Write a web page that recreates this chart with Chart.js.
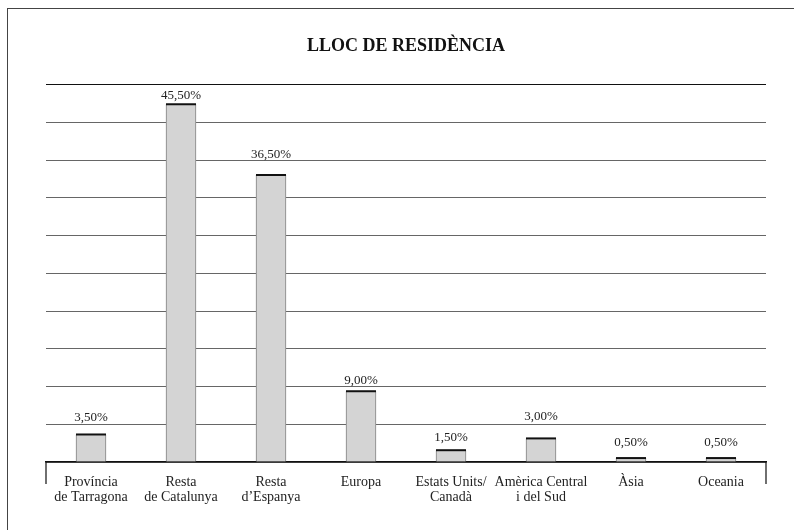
<!DOCTYPE html>
<html>
<head>
  <meta charset="UTF-8" />
  <title>Lloc de residència</title>
  <script src="https://cdn.jsdelivr.net/npm/chart.js"></script>
  <style>
    html, body { margin: 0; padding: 0; background: #fff; overflow: hidden; }
    .frame { position: absolute; left: 7px; top: 8px; width: 820px; height: 560px;
             border-top: 1.5px solid #444; border-left: 1.5px solid #444; }
    .chart-container { position: absolute; left: 0; top: 0; width: 794px; height: 530px; }
  </style>
</head>
<body>
  <div class="frame"></div>
  <div class="chart-container"><canvas id="residChart"></canvas></div>

  <script>
    const categories = [
      ['Província', 'de Tarragona'],
      ['Resta', 'de Catalunya'],
      ['Resta', 'd\u2019Espanya'],
      'Europa',
      ['Estats Units/', 'Canadà'],
      ['Amèrica Central', 'i del Sud'],
      'Àsia',
      'Oceania'
    ];
    const percentages = [3.5, 45.5, 36.5, 9.0, 1.5, 3.0, 0.5, 0.5];
    const valueLabels = ['3,50%', '45,50%', '36,50%', '9,00%', '1,50%', '3,00%', '0,50%', '0,50%'];

    const serif = "'Liberation Serif', 'Times New Roman', serif";

    // dark top edge on each bar + value text above it
    const barDecor = {
      id: 'barDecor',
      afterDatasetsDraw(chart, args, opts) {
        const ctx = chart.ctx;
        const meta = chart.getDatasetMeta(0);
        ctx.save();
        meta.data.forEach((bar, i) => {
          const half = bar.width / 2;
          ctx.strokeStyle = '#111';
          ctx.lineWidth = 2;
          ctx.beginPath();
          ctx.moveTo(bar.x - half, bar.y);
          ctx.lineTo(bar.x + half, bar.y);
          ctx.stroke();

          ctx.fillStyle = '#222';
          ctx.font = '13px ' + serif;
          ctx.textAlign = 'center';
          ctx.textBaseline = 'alphabetic';
          ctx.fillText(valueLabels[i], bar.x, bar.y - opts.gaps[i]);
        });
        // end ticks of the category axis
        const a = chart.chartArea;
        ctx.strokeStyle = '#111';
        ctx.lineWidth = 1.2;
        ctx.beginPath();
        ctx.moveTo(a.left, a.bottom);
        ctx.lineTo(a.left, a.bottom + 22);
        ctx.moveTo(a.right, a.bottom);
        ctx.lineTo(a.right, a.bottom + 22);
        ctx.stroke();
        ctx.restore();
      }
    };

    new Chart(document.getElementById('residChart'), {
      type: 'bar',
      data: {
        labels: categories,
        datasets: [{
          data: percentages,
          backgroundColor: '#d4d4d4',
          borderColor: '#808080',
          borderWidth: { top: 0, left: 1, right: 1, bottom: 0 },
          borderSkipped: false,
          barThickness: 30
        }]
      },
      options: {
        responsive: true,
        maintainAspectRatio: false,
        animation: false,
        devicePixelRatio: 1,
        layout: { padding: { top: 36, left: 46, right: 28, bottom: 0 } },
        plugins: {
          legend: { display: false },
          tooltip: { enabled: false },
          title: {
            display: true,
            text: 'LLOC DE RESIDÈNCIA',
            color: '#111',
            font: { family: serif, size: 18, weight: 'bold', lineHeight: 1.2 },
            padding: { top: 0, bottom: 27 }
          },
          // hand-placed label distances above each bar, as in the original
          barDecor: { gaps: [13, 5, 17, 7, 9, 18, 12, 12] }
        },
        scales: {
          x: {
            grid: { display: false },
            border: { display: true, color: '#111', width: 1.5 },
            ticks: {
              color: '#222',
              padding: 5,
              maxRotation: 0,
              autoSkip: false,
              font: { family: serif, size: 14, lineHeight: 1.08 }
            },
            afterFit: (scale) => { scale.height = 68; }
          },
          y: {
            min: 0,
            max: 48,
            ticks: { display: false, stepSize: 4.8 },
            border: { display: false },
            grid: {
              drawTicks: false,
              lineWidth: 1,
              color: (c) => (c.index === 10 ? '#111' : '#666')
            },
            afterFit: (scale) => { scale.width = 0; }
          }
        }
      },
      plugins: [barDecor]
    });
  </script>
</body>
</html>
